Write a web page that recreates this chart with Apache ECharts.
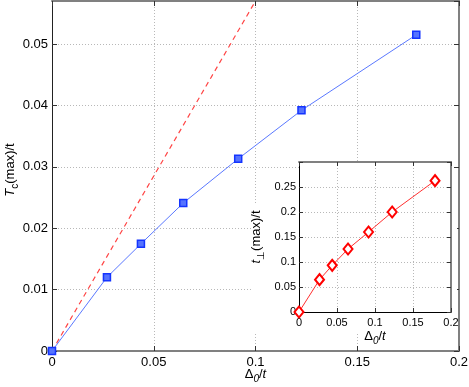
<!DOCTYPE html>
<html>
<head>
<meta charset="utf-8">
<script src="https://cdn.jsdelivr.net/npm/echarts@6/dist/echarts.min.js"></script>
<style>
  html, body { margin: 0; padding: 0; background: #fff; }
  #chart { width: 469px; height: 387px; }
</style>
</head>
<body>
<div id="chart"></div>
<script>
// Delta_0 / t values (shared by main plot and inset)
var delta0 = [0, 0.027, 0.0437, 0.0645, 0.0915, 0.1226, 0.179]
// Tc(max)/t
var tcMax = [0, 0.012, 0.01745, 0.0241, 0.0313, 0.0392, 0.0515]
// t_perp(max)/t (inset)
var tPerpMax = [0, 0.0647, 0.0933, 0.126, 0.16, 0.2, 0.2627]
// dashed reference line
var refX = [0, 0.1]
var refY = [0, 0.057]

var FONT = 'Liberation Sans'
var pairs = function (xs, ys) {
  return xs.map(function (x, i) { return [x, ys[i]] })
}
var fmt = function (v) {
  if (Math.abs(v) < 1e-9) return '0'
  return String(+v.toFixed(3))
}

var gridLine = {
  show: true,
  lineStyle: { color: '#b8b8b8', width: 1, type: [1, 2] }
}

var chart = echarts.init(document.getElementById('chart'))

var nameRich = function (size) {
  return {
    i: { fontFamily: FONT, fontSize: size, fontStyle: 'italic', color: '#000', verticalAlign: 'top', lineHeight: size + 2 },
    r: { fontFamily: FONT, fontSize: size, color: '#000', verticalAlign: 'top', lineHeight: size + 2 },
    s: { fontFamily: FONT, fontSize: size - 3, color: '#000', verticalAlign: 'top', lineHeight: size - 1, padding: [6, 0, 0, 0] },
    si: { fontFamily: FONT, fontSize: size - 3, fontStyle: 'italic', color: '#000', verticalAlign: 'top', lineHeight: size - 1, padding: [6, 0, 0, 0] }
  }
}

chart.setOption({
  animation: false,
  backgroundColor: '#fff',
  graphic: {
    elements: [
      { type: 'rect', z: 5, silent: true, shape: { x: 299, y: 162, width: 152, height: 150 }, style: { fill: '#fff' } },
      { type: 'rect', z: 5, silent: true, shape: { x: 253, y: 205, width: 204, height: 128 }, style: { fill: '#fff' } }
    ]
  },
  grid: [
    { left: 52, top: 1, width: 407, height: 350, outerBoundsMode: 'none', containLabel: false },
    { left: 299, top: 162, width: 152, height: 150, z: 10, outerBoundsMode: 'none', containLabel: false }
  ],
  xAxis: [
    {
      gridIndex: 0, type: 'value', min: 0, max: 0.2, interval: 0.05,
      name: '{r|Δ}{si|0}{r|/}{i|t}', nameLocation: 'middle', nameGap: 17, nameMoveOverlap: false,
      nameTextStyle: { rich: nameRich(13) },
      axisLine: { onZero: false, lineStyle: { color: '#808080', width: 2 } },
      axisTick: { inside: true, length: 5, lineStyle: { color: '#333' } },
      axisLabel: { fontFamily: FONT, fontSize: 13, color: '#000', margin: 5, formatter: fmt },
      splitLine: gridLine
    },
    {
      gridIndex: 0, type: 'value', position: 'top', min: 0, max: 0.2, interval: 0.05,
      axisLine: { onZero: false, lineStyle: { color: '#808080', width: 2 } },
      axisTick: { inside: true, length: 5, lineStyle: { color: '#333' } },
      axisLabel: { show: false }, splitLine: { show: false }
    },
    {
      gridIndex: 1, type: 'value', min: 0, max: 0.2, interval: 0.05, z: 10,
      name: '{r|Δ}{si|0}{r|/}{i|t}', nameLocation: 'middle', nameGap: 18, nameMoveOverlap: false,
      nameTextStyle: { rich: nameRich(13) },
      axisLine: { onZero: false, lineStyle: { color: '#000', width: 1 } },
      axisTick: { inside: true, length: 4, lineStyle: { color: '#333' } },
      axisLabel: { fontFamily: FONT, fontSize: 11, color: '#000', margin: 5, formatter: fmt },
      splitLine: gridLine
    },
    {
      gridIndex: 1, type: 'value', position: 'top', min: 0, max: 0.2, interval: 0.05, z: 10,
      axisLine: { onZero: false, lineStyle: { color: '#808080', width: 2 } },
      axisTick: { inside: true, length: 4, lineStyle: { color: '#333' } },
      axisLabel: { show: false }, splitLine: { show: false }
    }
  ],
  yAxis: [
    {
      gridIndex: 0, type: 'value', min: 0, max: 0.057, interval: 0.01,
      name: '{i|T}{s|c}{r|(max)/t}', nameLocation: 'middle', nameGap: 33, nameRotate: 90, nameMoveOverlap: false,
      nameTextStyle: { rich: nameRich(13), padding: [0, 0, 0, 12] },
      axisLine: { onZero: false, lineStyle: { color: '#222', width: 1 } },
      axisTick: { inside: true, length: 5, lineStyle: { color: '#333' } },
      axisLabel: { fontFamily: FONT, fontSize: 13, color: '#000', margin: 4, showMaxLabel: false, formatter: fmt },
      splitLine: gridLine
    },
    {
      gridIndex: 0, type: 'value', position: 'right', min: 0, max: 0.057, interval: 0.01,
      axisLine: { onZero: false, lineStyle: { color: '#808080', width: 2 } },
      axisTick: { inside: true, length: 5, lineStyle: { color: '#333' } },
      axisLabel: { show: false }, splitLine: { show: false }
    },
    {
      gridIndex: 1, type: 'value', min: 0, max: 0.3, interval: 0.05, z: 10,
      name: '{i|t}{s|⊥}{r|(max)/t}', nameLocation: 'middle', nameGap: 34, nameRotate: 90, nameMoveOverlap: false,
      nameTextStyle: { rich: nameRich(13) },
      axisLine: { onZero: false, lineStyle: { color: '#000', width: 1 } },
      axisTick: { inside: true, length: 4, lineStyle: { color: '#333' } },
      axisLabel: {
        fontFamily: FONT, fontSize: 11, color: '#000', margin: 3,
        formatter: function (v) { return v > 0.29 ? '' : fmt(v) }
      },
      splitLine: gridLine
    },
    {
      gridIndex: 1, type: 'value', position: 'right', min: 0, max: 0.3, interval: 0.05, z: 10,
      axisLine: { onZero: false, lineStyle: { color: '#808080', width: 2 } },
      axisTick: { inside: true, length: 4, lineStyle: { color: '#333' } },
      axisLabel: { show: false }, splitLine: { show: false }
    }
  ],
  series: [
    {
      type: 'line', xAxisIndex: 0, yAxisIndex: 0,
      data: pairs(refX, refY),
      showSymbol: false, symbol: 'none',
      lineStyle: { color: '#ff4545', width: 1.2, type: [5, 4] }
    },
    {
      type: 'line', xAxisIndex: 0, yAxisIndex: 0,
      data: pairs(delta0, tcMax),
      symbol: 'rect', symbolSize: 7,
      lineStyle: { color: '#5a78ff', width: 1 },
      itemStyle: { color: '#5573ff', borderColor: '#1434ff', borderWidth: 1.5 }
    },
    {
      type: 'line', xAxisIndex: 2, yAxisIndex: 2, z: 12,
      data: pairs(delta0, tPerpMax),
      symbol: 'diamond', symbolSize: [9, 11],
      lineStyle: { color: '#ff3030', width: 1 },
      itemStyle: { color: '#fff', borderColor: '#ff0000', borderWidth: 2 }
    }
  ]
})
</script>
</body>
</html>
